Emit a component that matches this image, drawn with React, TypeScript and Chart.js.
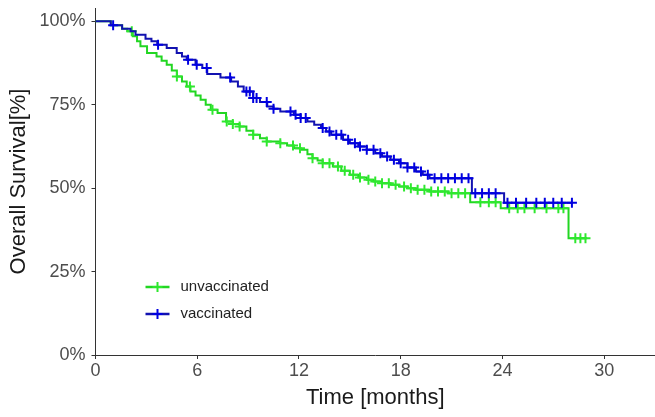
import { useEffect, useRef } from "react";
import { Chart, registerables } from "chart.js";

Chart.register(...registerables);

// Kaplan–Meier step curves: event times (months) and survival (%) after each event
const seriesNames = ["unvaccinated", "vaccinated"];

const unvaxTimes = [0, 0.9, 1.57, 1.87, 2.2, 2.45, 2.65, 3.04, 3.6, 3.9, 4.2, 4.5, 4.8, 5.1, 5.38, 5.6, 5.9, 6.2, 6.5, 6.8, 7.2, 7.7, 8.1, 8.5, 8.9, 9.3, 9.7, 10.1, 10.9, 11.3, 11.7, 12.1, 12.5, 12.8, 13.1, 13.4, 14.0, 14.5, 15.0, 15.5, 16.0, 16.4, 16.9, 17.4, 17.9, 18.4, 18.9, 19.7, 20.8, 22.1, 23.9, 27.9, 29.0];
const unvaxSurv = [100, 98.8, 97.8, 97, 95.5, 94, 92.5, 90.5, 89.5, 88.2, 87, 85.3, 83.5, 82, 80.5, 79, 77.8, 76.5, 75, 73.5, 72.5, 70, 69.2, 68.5, 67.2, 66, 65, 64, 63.5, 62.8, 62, 61.5, 60.2, 59, 58.3, 57.5, 56.5, 55.2, 54, 53.2, 52.5, 52, 51.5, 51, 50.5, 50, 49.5, 49, 48.5, 45.8, 44, 35, 35];
const unvaxCensored = [2.14, 4.8, 5.57, 6.9, 7.74, 8.1, 8.5, 9.3, 10.1, 10.9, 11.65, 12.06, 12.8, 13.4, 13.8, 14.3, 14.7, 15.2, 15.6, 16.1, 16.5, 16.9, 17.3, 17.7, 18.2, 18.6, 19.0, 19.4, 19.8, 20.2, 20.6, 21.0, 21.4, 21.8, 22.7, 23.2, 23.6, 24.4, 24.9, 25.3, 25.9, 26.6, 27.3, 27.6, 28.3, 28.6, 28.9];

const vaxTimes = [0, 0.9, 1.57, 2.07, 2.36, 2.95, 3.3, 3.64, 4.2, 4.79, 5.1, 5.38, 5.9, 6.3, 6.59, 7.37, 8.0, 8.4, 8.74, 9.3, 9.7, 10.13, 10.5, 10.9, 11.7, 12.1, 12.5, 12.9, 13.3, 13.6, 13.9, 14.6, 15.0, 15.5, 16.0, 16.5, 16.9, 17.4, 17.9, 18.4, 18.9, 19.3, 19.7, 22.2, 24.1, 28.1];
const vaxSurv = [100, 98.8, 97.8, 97, 96, 94.8, 94, 93, 92, 90.5, 89.5, 88.5, 87, 86, 84.2, 83.2, 82, 80.5, 79, 77, 75.8, 74.5, 73.8, 73, 72, 71, 70, 69, 68, 67, 66, 64.5, 63.5, 62.5, 61.5, 60.5, 59.5, 58.5, 57.5, 56.2, 55, 54, 53, 48.5, 45.6, 45.6];
const vaxCensored = [1.04, 3.69, 5.46, 5.97, 6.56, 7.94, 8.9, 9.1, 9.3, 9.5, 10.1, 10.5, 11.5, 11.8, 12.1, 12.4, 13.4, 13.8, 14.2, 14.5, 14.9, 15.3, 15.6, 16.0, 16.4, 16.8, 17.2, 17.6, 18.0, 18.4, 18.8, 19.2, 19.6, 20.0, 20.4, 20.8, 21.2, 21.6, 22.0, 22.4, 22.8, 23.2, 23.6, 24.3, 24.8, 25.4, 26.0, 26.5, 27.0, 27.5, 28.1];

const xTickStep = 6;
const yTickStep = 25;

const GREEN_LINE = "#22d622";
const GREEN_MARK = "#2ee82e";
const BLUE_LINE = "#1212b0";
const BLUE_MARK = "#0000e0";
const FONT = "'Liberation Sans', Arial, sans-serif";

function stepPoints(times: number[], surv: number[]) {
  return times.map((t, i) => ({ x: t, y: surv[i] }));
}

// survival level of a step curve at time t (value after the last event at or before t)
function levelAt(times: number[], surv: number[], t: number) {
  let v = surv[0];
  for (let i = 0; i < times.length; i++) {
    if (times[i] <= t) v = surv[i];
    else break;
  }
  return v;
}

function censorPoints(times: number[], surv: number[], cens: number[]) {
  return cens.map((t) => ({ x: t, y: levelAt(times, surv, t) }));
}

const kmLegend = {
  id: "kmLegend",
  afterDraw(chart: any) {
    const { ctx, chartArea } = chart;
    const items = [
      { label: seriesNames[0], line: GREEN_LINE, mark: GREEN_MARK },
      { label: seriesNames[1], line: BLUE_LINE, mark: BLUE_MARK },
    ];
    const x0 = chartArea.left + 50;
    let y = chartArea.bottom - 68;
    ctx.save();
    items.forEach((it) => {
      ctx.strokeStyle = it.line;
      ctx.lineWidth = 2.5;
      ctx.beginPath();
      ctx.moveTo(x0, y);
      ctx.lineTo(x0 + 24, y);
      ctx.stroke();
      ctx.strokeStyle = it.mark;
      ctx.lineWidth = 2;
      ctx.beginPath();
      ctx.moveTo(x0 + 12, y - 5);
      ctx.lineTo(x0 + 12, y + 5);
      ctx.moveTo(x0 + 7, y);
      ctx.lineTo(x0 + 17, y);
      ctx.stroke();
      ctx.fillStyle = "#222";
      ctx.font = `15px ${FONT}`;
      ctx.textBaseline = "middle";
      ctx.textAlign = "left";
      ctx.fillText(it.label, x0 + 35, y);
      y += 27;
    });
    ctx.restore();
  },
};

export default function App() {
  const canvasRef = useRef<HTMLCanvasElement | null>(null);

  useEffect(() => {
    document.body.style.margin = "0";
    const canvas = canvasRef.current;
    if (!canvas) return;
    const chart = new Chart(canvas, {
      type: "line",
      data: {
        datasets: [
          {
            label: seriesNames[1] + " censored",
            type: "scatter",
            data: censorPoints(vaxTimes, vaxSurv, vaxCensored),
            showLine: false,
            pointStyle: "cross",
            pointRadius: 5,
            borderWidth: 2,
            borderColor: BLUE_MARK,
            backgroundColor: BLUE_MARK,
            order: 0,
          },
          {
            label: seriesNames[1],
            data: stepPoints(vaxTimes, vaxSurv),
            stepped: true,
            borderColor: BLUE_LINE,
            borderWidth: 2,
            pointRadius: 0,
            fill: false,
            order: 1,
          },
          {
            label: seriesNames[0] + " censored",
            type: "scatter",
            data: censorPoints(unvaxTimes, unvaxSurv, unvaxCensored),
            showLine: false,
            pointStyle: "cross",
            pointRadius: 5,
            borderWidth: 2,
            borderColor: GREEN_MARK,
            backgroundColor: GREEN_MARK,
            order: 2,
          },
          {
            label: seriesNames[0],
            data: stepPoints(unvaxTimes, unvaxSurv),
            stepped: true,
            borderColor: GREEN_LINE,
            borderWidth: 2,
            pointRadius: 0,
            fill: false,
            order: 3,
          },
        ],
      },
      options: {
        responsive: false,
        animation: false,
        layout: { autoPadding: false, padding: { top: 8, left: 0, right: 0, bottom: 0 } },
        plugins: { legend: { display: false }, tooltip: { enabled: false } },
        scales: {
          x: {
            type: "linear",
            min: 0,
            max: 33,
            afterFit: (s: any) => {
              s.height = 62;
              s.paddingLeft = 0;
              s.paddingRight = 0;
            },
            ticks: {
              stepSize: xTickStep,
              includeBounds: false,
              color: "#4d4d4d",
              font: { family: FONT, size: 18 },
              padding: 1,
              maxRotation: 0,
            },
            grid: { drawOnChartArea: false, drawTicks: true, tickLength: 4, color: "#333", tickWidth: 1 },
            border: { display: true, color: "#333", width: 1 },
            title: {
              display: true,
              text: "Time [months]",
              color: "#1a1a1a",
              font: { family: FONT, size: 22 },
              padding: { top: 0, bottom: 6 },
            },
          },
          y: {
            type: "linear",
            min: 0,
            max: 104,
            afterFit: (s: any) => {
              s.width = 95.5;
              s.paddingTop = 0;
              s.paddingBottom = 0;
            },
            ticks: {
              stepSize: yTickStep,
              includeBounds: false,
              color: "#4d4d4d",
              font: { family: FONT, size: 18 },
              padding: 6,
              callback: (v: any) => v + "%",
            },
            grid: { drawOnChartArea: false, drawTicks: true, tickLength: 4, color: "#333", tickWidth: 1 },
            border: { display: true, color: "#333", width: 1 },
            title: {
              display: true,
              text: "Overall Survival[%]",
              color: "#1a1a1a",
              font: { family: FONT, size: 22 },
              padding: { top: 6, bottom: 0 },
            },
          },
        },
      },
      plugins: [kmLegend],
    });
    return () => chart.destroy();
  }, []);

  return (
    <div style={{ width: 655, height: 417 }}>
      <canvas ref={canvasRef} width={655} height={417} style={{ display: "block" }} />
    </div>
  );
}
